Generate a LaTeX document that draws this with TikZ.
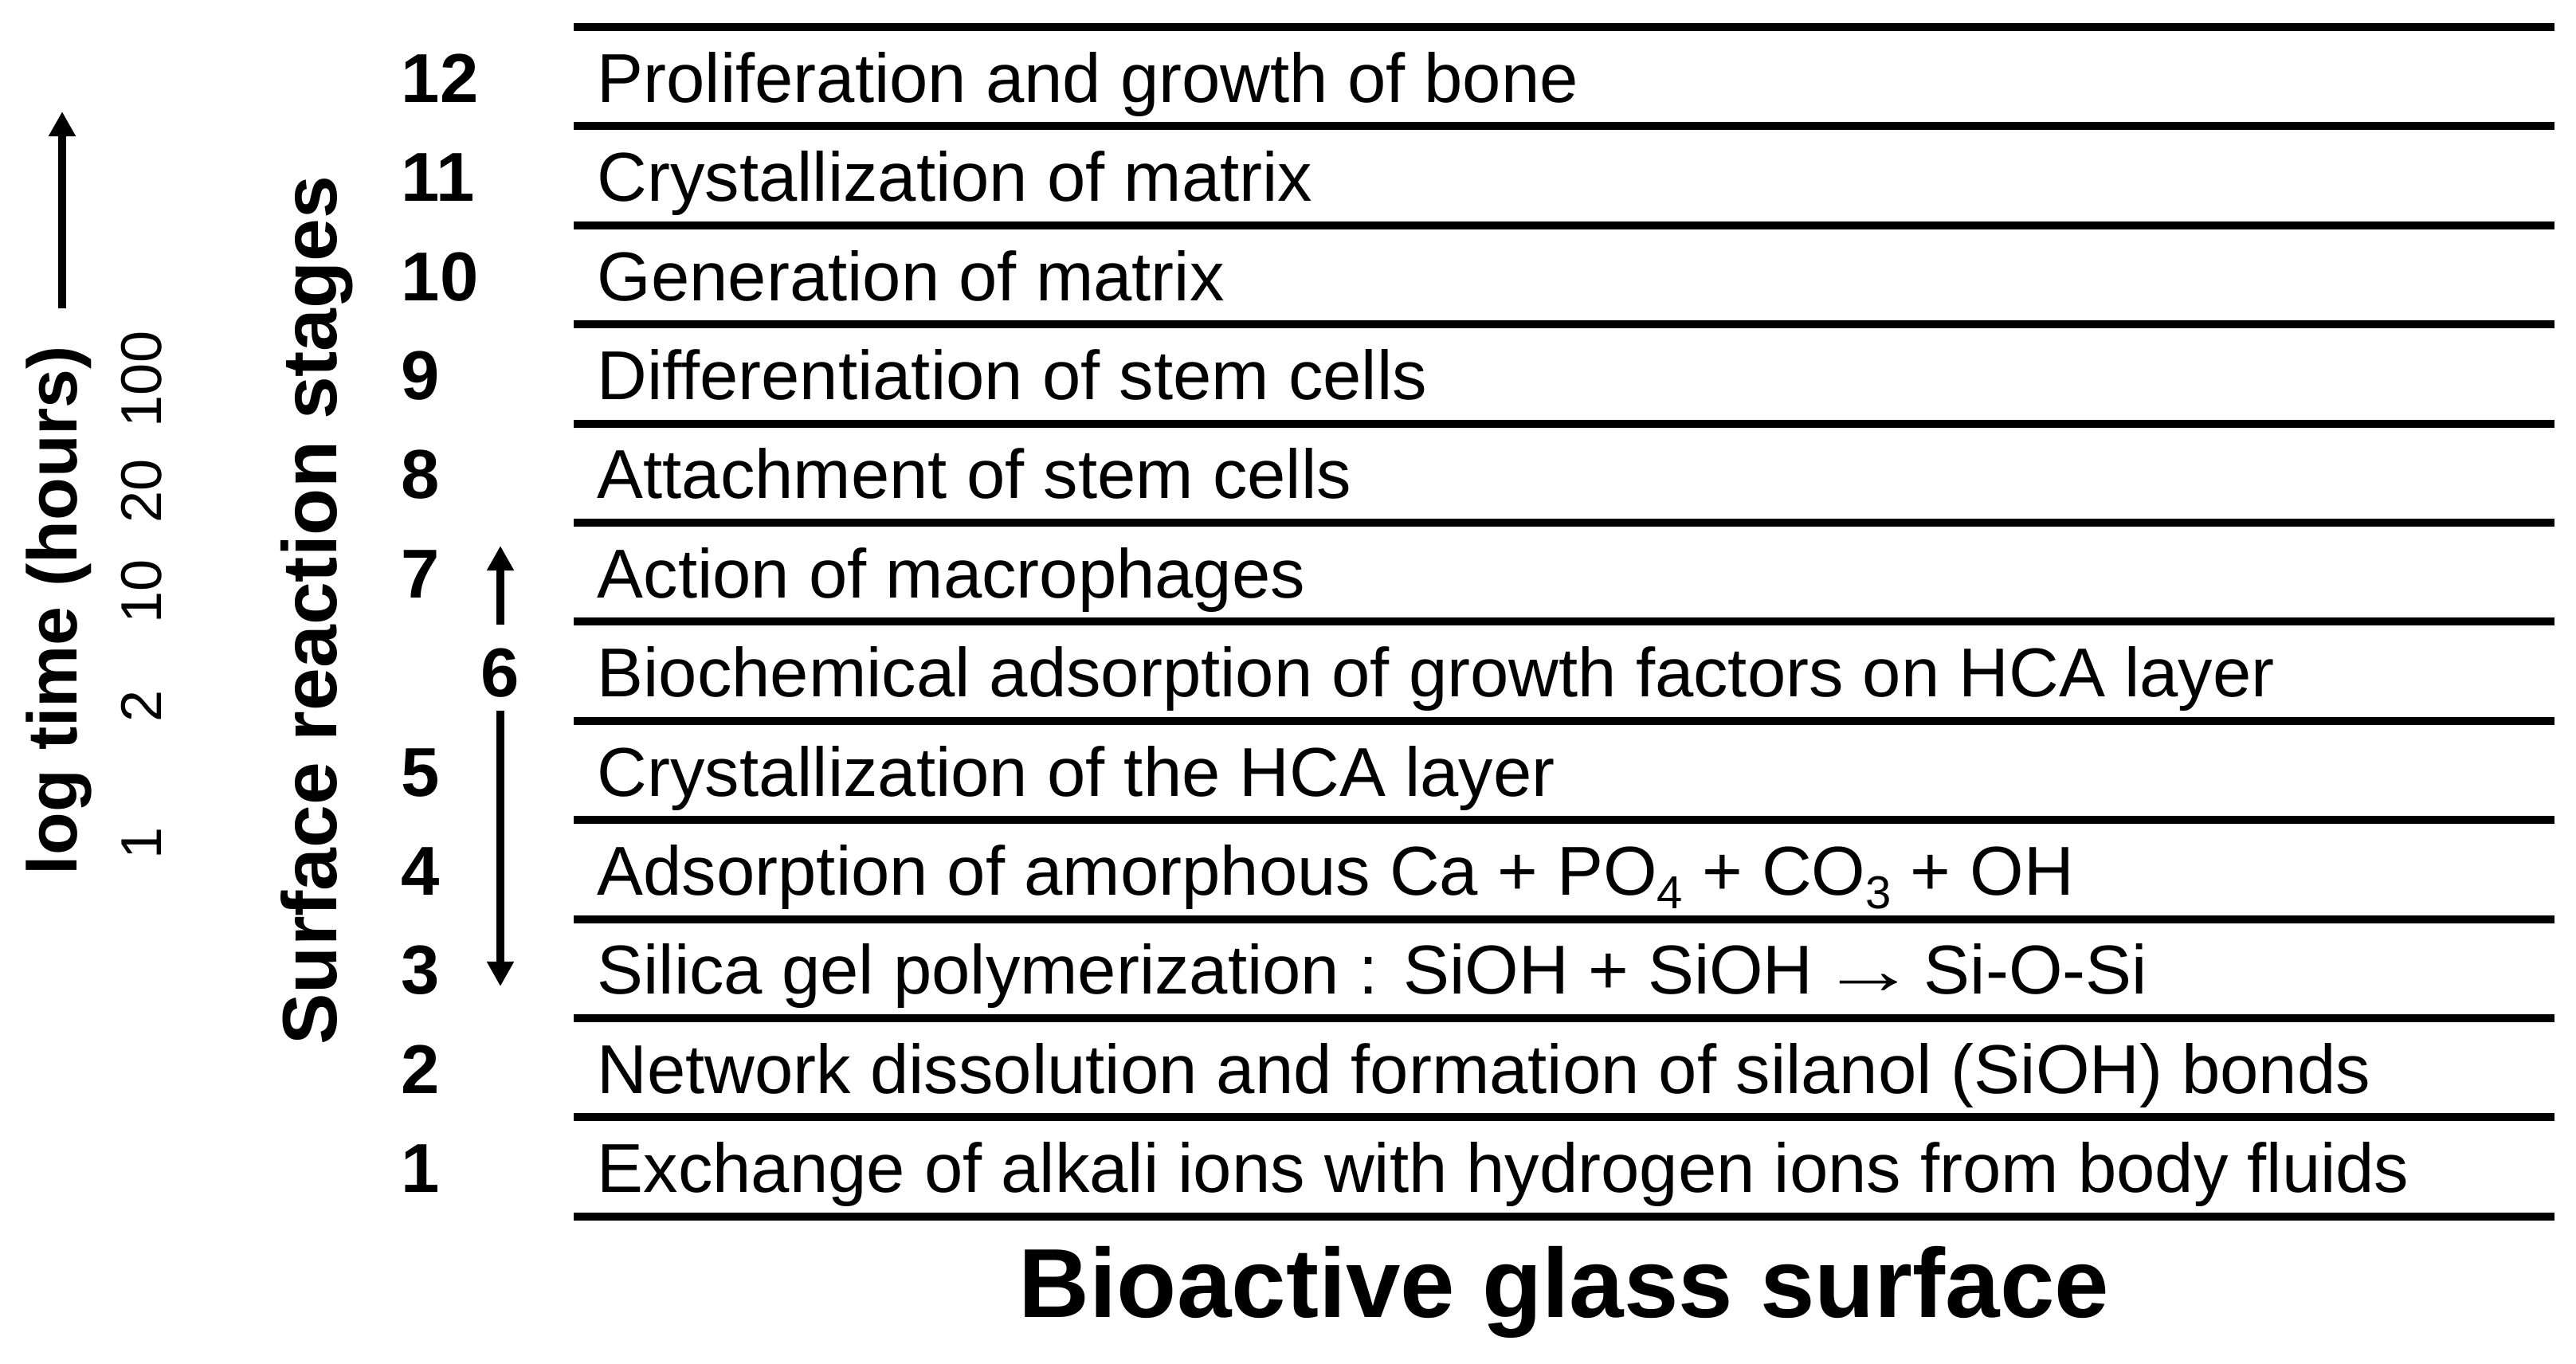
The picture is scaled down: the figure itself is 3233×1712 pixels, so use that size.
\documentclass[tikz,border=0pt]{standalone}
\usepackage{fontspec}
\setmainfont{Liberation Sans}
\usetikzlibrary{arrows.meta}
\newcommand{\lowsub}[1]{\raisebox{-5pt}{\fontsize{16.5pt}{17pt}\selectfont #1}}
\begin{document}
\begin{tikzpicture}[x=0.01cm,y=-0.01cm,
  layer/.style={line width=2.85pt},
  stagetxt/.style={anchor=base west, inner sep=0pt, font=\fontsize{24.7pt}{29pt}\selectfont},
  stagenum/.style={anchor=base west, inner sep=0pt, font=\fontsize{24.7pt}{29pt}\selectfont\bfseries},
  arr/.style={line width=2.85pt, -{Triangle[width=0.32cm,length=0.31cm]}},
  ticklab/.style={rotate=90, anchor=base, inner sep=0pt, font=\fontsize{20.5pt}{22pt}\selectfont}
]
\useasboundingbox (0,0) rectangle (3233,1712);
% layer lines
\foreach \i in {0,...,12}{
  \draw[layer] (720,{34+124.4*\i}) -- (3206,{34+124.4*\i});
}
% stage texts (row k centre = 96.2 + 124.4*(12-k))
\foreach \k/\t in {
  12/{Proliferation and growth of bone},
  11/{Crystallization of matrix},
  10/{Generation of matrix},
  9/{Differentiation of stem cells},
  8/{Attachment of stem cells},
  7/{Action of macrophages},
  6/{Biochemical adsorption of growth factors on HCA layer},
  5/{Crystallization of the HCA layer},
  4/{Adsorption of amorphous Ca + PO\lowsub{4} + CO\lowsub{3} + OH},
  3/{Silica gel polymerization : SiOH + SiOH\hspace{0.1em}\scalebox{1.4}[1]{→}\hspace{0.1em}Si-O-Si},
  2/{Network dissolution and formation of silanol (SiOH) bonds},
  1/{Exchange of alkali ions with hydrogen ions from body fluids}}{
  \node[stagetxt] (t\k) at (749,{96.2+124.4*(12-\k)+32}) {\t};
}
% stage numbers
\foreach \k in {12,11,10,9,8,7,5,4,3,2,1}{
  \node[stagenum] (n\k) at (503,{96.2+124.4*(12-\k)+32}) {\k};
}
\node[stagenum, anchor=base] (n6) at (628,{96.2+124.4*6+32}) {6};
% arrows around 6
\coordinate (upS) at (628,784);
\coordinate (upT) at (628,685);
\coordinate (dnS) at (628,892);
\coordinate (dnT) at (628,1238);
\draw[arr] (upS) -- (upT);
\draw[arr] (dnS) -- (dnT);
% axis labels
\node[rotate=90, anchor=base, inner sep=0pt, font=\fontsize{27.5pt}{30pt}\selectfont\bfseries] (srs) at (422,766) {Surface reaction stages};
\node[rotate=90, anchor=base, inner sep=0pt, font=\fontsize{25pt}{28pt}\selectfont\bfseries] (logt) at (97,766) {log time (hours)};
\coordinate (tA) at (78,387);
\coordinate (tB) at (78,140);
\draw[arr] (tA) -- (tB);
% ticks
\node[ticklab] (k100) at (202,476) {100};
\node[ticklab] (k20) at (202,616) {20};
\node[ticklab] (k10) at (202,742) {10};
\node[ticklab] (k2) at (202,886) {2};
\node[ticklab] (k1) at (202,1058) {1};
% title
\node[anchor=base, inner sep=0pt, font=\fontsize{35pt}{40pt}\selectfont\bfseries] (title) at (1963,1653) {Bioactive glass surface};
\end{tikzpicture}
\end{document}
